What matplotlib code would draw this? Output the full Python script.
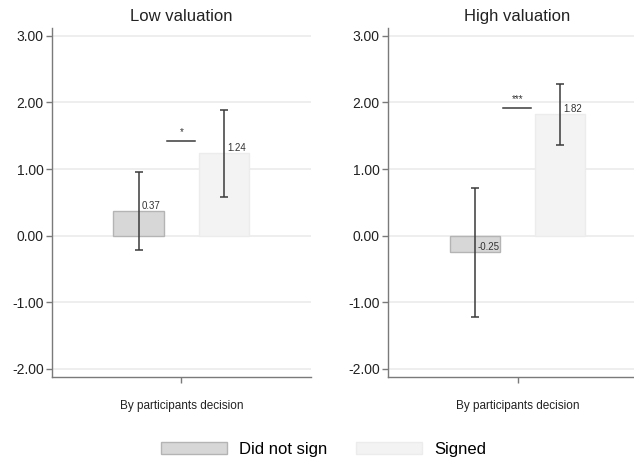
import matplotlib.pyplot as plt
from matplotlib.patches import Patch

plt.rcParams['font.family'] = ['Liberation Sans', 'DejaVu Sans']

panels = ["Low valuation", "High valuation"]
groups = ["Did not sign", "Signed"]
means = [[0.37, 1.24], [-0.25, 1.82]]
ci_low = [[-0.21, 0.58], [-1.22, 1.36]]
ci_high = [[0.95, 1.89], [0.71, 2.27]]
sig_level = [1.42, 1.91]
sig_label = ["*", "***"]
yticks = [-2, -1, 0, 1, 2, 3]
xlabel = "By participants decision"

bar_colors = ["#d7d7d7", "#f3f3f3"]
edge_colors = ["#b4b4b4", "#ececec"]
err_color = "#3a3a3a"

fig = plt.figure(figsize=(6.34, 4.63), dpi=100)
lefts = [0.082, 0.612]
xpos = [-0.33, 0.33]

for k, title in enumerate(panels):
    ax = fig.add_axes([lefts[k], 0.186, 0.4085, 0.754])
    for t in yticks:
        ax.axhline(t, color="#ebebeb", lw=1.2, zorder=0)
    for i in range(2):
        m = means[k][i]
        ax.bar(xpos[i], m, width=0.39, color=bar_colors[i],
               edgecolor=edge_colors[i], linewidth=1, zorder=2)
        lo = m - ci_low[k][i]
        hi = ci_high[k][i] - m
        ax.errorbar(xpos[i], m, yerr=[[lo], [hi]], fmt="none",
                    ecolor=err_color, elinewidth=1.1, capsize=2.8,
                    capthick=1.1, zorder=3)
        ax.text(xpos[i] + 0.025, m, f"{m:.2f}", fontsize=7,
                color="#333333", ha="left", va="bottom", zorder=4)
    ax.plot([-0.11, 0.105], [sig_level[k], sig_level[k]],
            color=err_color, lw=1.1, zorder=3)
    ax.text(0.0, sig_level[k] + 0.06, sig_label[k], fontsize=7,
            ha="center", va="bottom", color="#333333")

    ax.set_xlim(-1, 1)
    ax.set_ylim(-2.12, 3.12)
    ax.set_yticks(yticks)
    ax.set_yticklabels([f"{t:.2f}" for t in yticks])
    ax.set_xticks([0])
    ax.set_xticklabels([""])
    ax.set_xlabel(xlabel, fontsize=8.5, color="#222222", labelpad=9)
    ax.set_title(title, fontsize=12, color="#222222", pad=5)
    ax.tick_params(axis="y", labelsize=10, colors="#7a7a7a",
                   labelcolor="#222222", length=4, width=1, pad=2)
    ax.tick_params(axis="x", colors="#7a7a7a", length=4, width=1)
    for s in ["top", "right"]:
        ax.spines[s].set_visible(False)
    for s in ["left", "bottom"]:
        ax.spines[s].set_color("#7a7a7a")
        ax.spines[s].set_linewidth(1)

handles = [Patch(facecolor=bar_colors[i], edgecolor=edge_colors[i], label=groups[i])
           for i in range(2)]
fig.legend(handles=handles, loc="center", bbox_to_anchor=(0.51, 0.029),
           ncol=2, frameon=False, fontsize=12, handlelength=4.0,
           handleheight=0.75, handletextpad=0.7, columnspacing=1.7)

fig.savefig("out.png", dpi=100)
